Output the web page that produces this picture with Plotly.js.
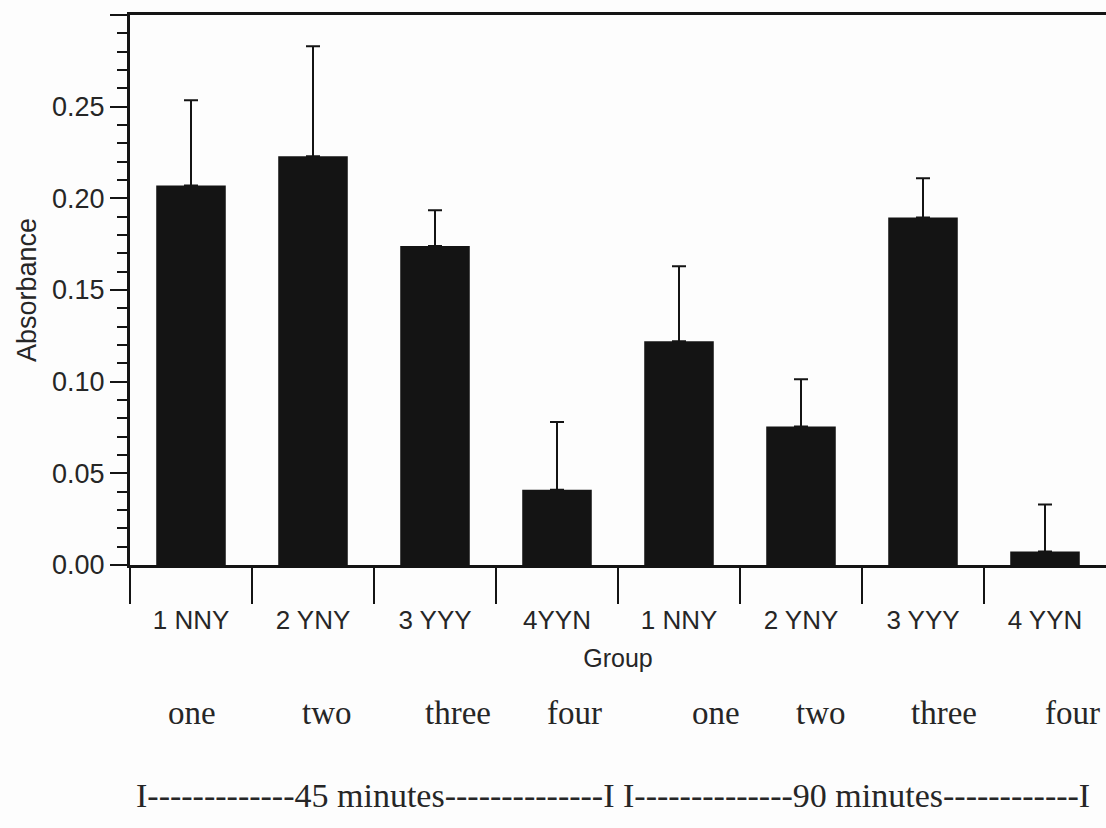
<!DOCTYPE html>
<html>
<head>
<meta charset="utf-8">
<script src="https://cdn.plot.ly/plotly-3.0.1.min.js"></script>
<style>html,body{margin:0;padding:0;background:#fff;}#chart{width:1106px;height:828px;}</style>
</head>
<body>
<div id="chart"></div>
<script>
// Data
const groups = ["1 NNY", "2 YNY", "3 YYY", "4YYN", "1 NNY", "2 YNY", "3 YYY", "4 YYN"];
const absorbance = [0.207, 0.223, 0.174, 0.041, 0.122, 0.0755, 0.1896, 0.0073];
const errUpper = [0.0465, 0.060, 0.0195, 0.037, 0.041, 0.0258, 0.0214, 0.0257];
const yTickVals = [0, 0.05, 0.10, 0.15, 0.20, 0.25, 0.30];
const yTickText = ["0.00", "0.05", "0.10", "0.15", "0.20", "0.25", ""];
const words = ["one", "two", "three", "four", "one", "two", "three", "four"];
const wordPx = [192, 327, 458, 574, 716, 821, 944, 1072];
const timeLine = "I-------------45 minutes--------------I I--------------90 minutes------------I";

const pos = groups.map((g, i) => i);
const divTicks = groups.map((g, i) => i - 0.5);

const L = 130, T = 15, H = 550, W = 1106 - 130;
const toPaperX = px => (px - L) / W;
const toPaperY = py => (T + H - py) / H;

const sans = "Liberation Sans, Arial, sans-serif";
const serif = "Liberation Serif, Times New Roman, serif";
const ink = "#141414";
const txt = "#262626";

const trace = {
  type: "bar",
  x: pos,
  y: absorbance,
  width: 0.57,
  marker: {color: ink, line: {width: 0}},
  error_y: {type: "data", symmetric: false, array: errUpper, arrayminus: absorbance.map(() => 0),
            color: ink, thickness: 2, width: 7},
  hoverinfo: "skip"
};
const dummy = {type: "scatter", x: [-0.5], y: [0], xaxis: "x2", mode: "markers",
  marker: {opacity: 0}, hoverinfo: "skip", showlegend: false};

const annotations = words.map((w, i) => ({
  text: w, xref: "paper", yref: "paper", x: toPaperX(wordPx[i]), y: toPaperY(713),
  xanchor: "center", yanchor: "middle", showarrow: false,
  font: {family: serif, size: 33, color: txt}
}));
annotations.push({
  text: timeLine, xref: "paper", yref: "paper", x: toPaperX(134), y: toPaperY(795),
  xanchor: "left", yanchor: "middle", showarrow: false,
  font: {family: serif, size: 34, color: txt}
});

const layout = {
  width: 1106, height: 828,
  margin: {l: L, r: 0, t: T, b: 828 - T - H},
  paper_bgcolor: "#fdfdfd", plot_bgcolor: "#fdfdfd",
  showlegend: false,
  xaxis: {
    range: [-0.5, 7.5], tickmode: "array", tickvals: pos, ticktext: groups,
    ticks: "", showgrid: false, zeroline: false,
    showline: true, linecolor: ink, linewidth: 3, mirror: true,
    tickfont: {family: sans, size: 26, color: txt},
    title: {text: "Group", font: {family: sans, size: 25, color: txt}, standoff: 16},
    ticklabelstandoff: 30
  },
  xaxis2: {
    overlaying: "x", matches: "x", range: [-0.5, 7.5], tickmode: "array", tickvals: divTicks,
    ticks: "outside", ticklen: 38, tickwidth: 2, tickcolor: ink,
    showticklabels: false, showgrid: false, zeroline: false, showline: false, side: "bottom", anchor: "y"
  },
  yaxis: {
    range: [0, 0.30], tickmode: "array", tickvals: yTickVals, ticktext: yTickText,
    ticks: "outside", ticklen: 17, tickwidth: 2, tickcolor: ink,
    minor: {dtick: 0.01, ticks: "outside", ticklen: 10, tickwidth: 2, tickcolor: ink, showgrid: false},
    showgrid: false, zeroline: false,
    showline: true, linecolor: ink, linewidth: 3,
    tickfont: {family: sans, size: 27, color: txt},
    title: {text: "Absorbance", font: {family: sans, size: 27, color: txt}, standoff: 8}
  },
  annotations: annotations,
  bargap: 0.43
};

Plotly.newPlot("chart", [trace, dummy], layout, {displayModeBar: false, staticPlot: true});
</script>
</body>
</html>
